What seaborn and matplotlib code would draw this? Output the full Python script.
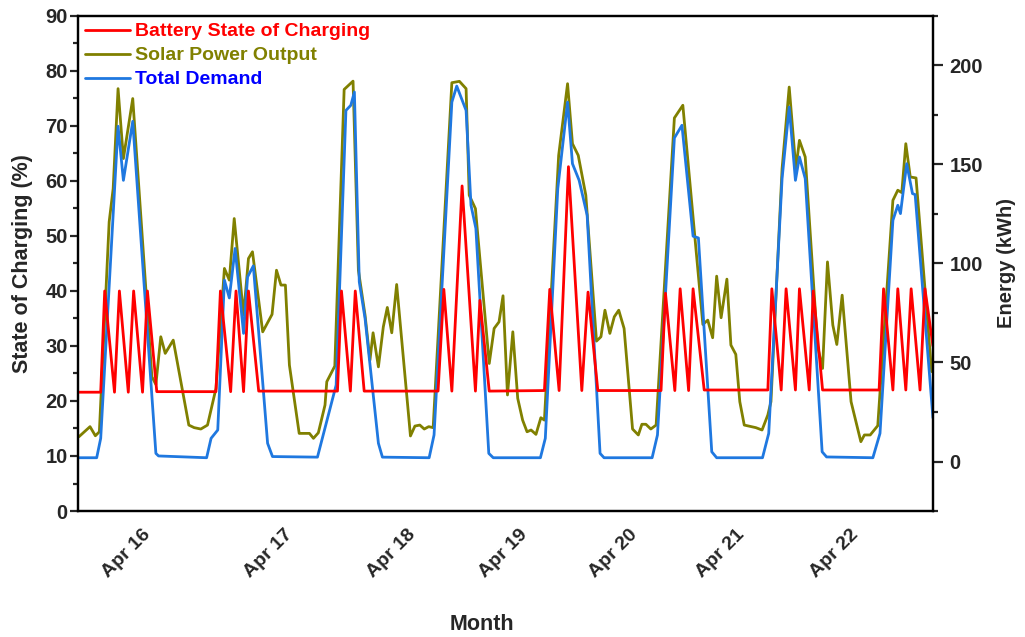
import matplotlib
matplotlib.use("Agg")
import matplotlib.pyplot as plt
import seaborn as sns
import pandas as pd
from matplotlib.ticker import MultipleLocator

# ---------------- data (x in hours from start) ----------------
soc_hours = [0.0, 4.9, 5.8, 8.0, 9.1, 11.1, 12.3, 14.3, 15.4, 17.5,
             30.8, 31.8, 34.1, 35.3, 37.0, 38.1, 40.4,
             58.1, 59.0, 61.0, 62.1, 64.1,
             80.7, 82.0, 83.8, 86.1, 89.1, 90.1, 92.2,
             104.6, 105.8, 107.9, 110.0, 113.0, 114.4, 116.6,
             130.8, 131.8, 133.9, 135.1, 137.0, 138.0, 140.5,
             154.8, 155.7, 157.8, 158.9, 161.0, 161.9, 164.1, 165.0, 167.1,
             179.8, 180.8, 182.9, 184.0, 185.8, 187.0, 189.0, 190.1, 191.9]
soc_values = [21.6, 21.6, 40.0, 21.6, 40.0, 21.6, 40.0, 21.6, 40.0, 21.7,
              21.7, 40.0, 21.7, 40.0, 21.7, 40.0, 21.8,
              21.8, 40.0, 21.8, 40.0, 21.8,
              21.8, 40.3, 21.8, 59.1, 21.8, 38.3, 21.8,
              21.9, 40.3, 21.9, 62.6, 21.9, 39.8, 21.9,
              21.9, 39.6, 21.9, 40.4, 21.9, 40.4, 22.0,
              22.0, 40.4, 22.0, 40.4, 22.0, 40.4, 22.0, 40.0, 22.0,
              22.0, 40.4, 22.0, 40.4, 22.0, 40.4, 22.0, 40.4, 30.0]

solar_hours = [0.0, 2.5, 3.7, 4.6, 6.8, 7.7, 8.8, 10.0, 12.1, 16.4, 17.3, 18.4, 19.4, 21.2,
               24.7, 25.9, 27.4, 28.9, 30.8, 32.7, 33.8, 34.9, 37.0, 38.1, 39.0, 41.3,
               43.4, 44.4, 45.4, 46.4, 47.3, 49.5, 51.8, 52.7, 53.8, 55.3, 55.7, 57.5,
               59.6, 61.6, 62.8, 64.3, 65.4, 66.1, 67.3, 68.4, 69.3, 70.3, 71.4,
               74.5, 75.5, 76.6, 77.6, 78.6, 79.6, 83.8, 85.5, 87.0, 87.7, 89.1,
               92.2, 93.3, 94.4, 95.3, 96.3, 97.5, 98.6, 99.7, 100.7, 101.6, 102.7, 103.8, 104.6,
               107.8, 109.8, 110.9, 112.2, 113.9, 116.3, 117.3, 118.2, 119.3, 120.3, 121.3, 122.5,
               124.4, 125.7, 126.5, 127.4, 128.5, 129.7, 133.8, 135.7,
               140.2, 141.3, 142.4, 143.3, 144.3, 145.6, 146.5, 147.6, 148.5, 149.5, 152.1, 153.5,
               154.8, 155.5, 158.0, 159.6, 161.1, 161.9, 163.2, 166.0, 167.1, 168.2, 169.4,
               170.3, 171.5, 173.5, 175.7, 176.5, 177.8, 179.5,
               182.9, 184.0, 184.9, 185.8, 186.8, 188.1, 191.6]
solar_values = [12.5, 17.6, 13.0, 15.0, 121.0, 137.8, 188.3, 153.0, 183.3, 42.8, 38.9, 63.0, 54.6, 61.3,
                18.4, 17.1, 16.4, 18.4, 36.9, 97.5, 91.6, 122.7, 73.9, 102.5, 105.9, 65.5,
                74.3, 96.6, 89.1, 89.1, 48.7, 14.2, 14.2, 11.7, 14.5, 28.5, 40.3, 48.2,
                187.9, 192.1, 96.6, 73.9, 51.2, 65.0, 47.8, 68.0, 77.8, 65.0, 89.4,
                12.9, 17.9, 18.4, 16.4, 17.6, 17.1, 191.3, 192.0, 188.3, 134.5, 127.7,
                49.5, 67.2, 70.5, 83.7, 33.6, 65.5, 31.9, 20.9, 15.0, 15.9, 13.7, 22.1, 20.9,
                154.6, 190.8, 160.5, 154.6, 134.5, 60.8, 63.0, 76.4, 64.7, 73.1, 76.4, 67.2,
                16.4, 13.4, 18.8, 18.8, 16.4, 18.4, 173.5, 179.9,
                69.2, 71.4, 62.5, 93.6, 72.6, 92.1, 58.8, 54.1, 30.2, 18.4, 17.1, 15.9,
                23.5, 30.2, 147.9, 189.1, 147.9, 162.2, 153.8, 57.9, 47.0, 100.8, 68.9,
                59.1, 84.0, 30.2, 10.0, 13.4, 13.4, 18.1,
                131.9, 137.0, 135.8, 160.5, 143.7, 143.2, 45.4]

demand_hours = [0.0, 4.0, 4.9, 8.8, 10.0, 12.1, 17.3, 17.9,
                28.7, 29.7, 31.2, 32.7, 33.8, 35.1, 37.0, 37.9, 39.2, 42.4, 43.5,
                53.6, 57.8, 60.0, 61.1, 61.9, 63.0, 64.3, 67.3, 68.2,
                78.7, 79.8, 83.8, 84.9, 87.0, 88.1, 89.2, 92.1, 93.1,
                103.7, 104.8, 107.6, 109.8, 110.9, 112.4, 114.2, 117.1, 118.0,
                128.8, 130.0, 133.8, 135.5, 138.0, 139.2, 142.2, 143.3,
                153.6, 155.0, 158.0, 159.6, 161.0, 161.9, 163.2, 167.0, 168.0,
                178.4, 180.0, 182.9, 184.0, 184.6, 186.0, 187.3, 187.9, 191.9]
demand_values = [1.9, 1.9, 11.7, 169.3, 142.0, 171.8, 4.1, 2.8,
                 1.9, 11.7, 15.9, 91.6, 82.6, 107.6, 64.7, 93.2, 98.8, 9.2, 2.5,
                 2.2, 38.6, 177.3, 179.9, 186.6, 90.7, 72.2, 9.2, 2.2,
                 1.9, 13.4, 181.5, 189.6, 177.3, 129.4, 117.7, 4.1, 1.9,
                 1.9, 11.7, 137.8, 181.5, 150.4, 142.0, 124.4, 4.1, 1.9,
                 1.9, 13.4, 163.4, 169.8, 113.8, 112.9, 4.9, 1.9,
                 1.9, 14.2, 142.9, 179.0, 142.0, 153.8, 142.9, 4.9, 2.3,
                 1.9, 14.2, 121.8, 129.4, 125.2, 150.4, 135.3, 134.8, 22.0]

tick_hours = [16.8, 48.7, 76.3, 101.5, 126.2, 150.4, 175.9]
tick_labels = ["Apr 16", "Apr 17", "Apr 18", "Apr 19", "Apr 20", "Apr 21", "Apr 22"]

series_names = ["Battery State of Charging", "Solar Power Output", "Total Demand"]
line_colors = ["#ff0000", "#808000", "#1f78e0"]
text_colors = ["#ff0000", "#808000", "#0000ff"]

# ---------------- plotting ----------------
sns.set_style("ticks")
plt.rcParams["font.family"] = ["Liberation Sans", "DejaVu Sans"]
plt.rcParams["font.weight"] = "bold"

fig = plt.figure(figsize=(10.25, 6.37), dpi=100)
ax = fig.add_axes([0.0761, 0.1978, 0.8341, 0.7771])
ax2 = ax.twinx()

soc_df = pd.DataFrame({"hour": soc_hours, "value": soc_values})
solar_df = pd.DataFrame({"hour": solar_hours, "value": solar_values})
demand_df = pd.DataFrame({"hour": demand_hours, "value": demand_values})

sns.lineplot(data=solar_df, x="hour", y="value", ax=ax2, color=line_colors[1],
             linewidth=2.0, sort=False, estimator=None, label=series_names[1], legend=False)
sns.lineplot(data=demand_df, x="hour", y="value", ax=ax2, color=line_colors[2],
             linewidth=2.0, sort=False, estimator=None, label=series_names[2], legend=False)
sns.lineplot(data=soc_df, x="hour", y="value", ax=ax, color=line_colors[0],
             linewidth=2.0, sort=False, estimator=None, label=series_names[0], legend=False)

ax.set_zorder(ax2.get_zorder() + 1)
ax.patch.set_visible(False)

ax.set_xlim(-0.2, 191.9)
ax.set_ylim(0, 90)
ax2.set_ylim(-25, 225)

ax.yaxis.set_major_locator(MultipleLocator(10))
ax.yaxis.set_minor_locator(MultipleLocator(5))
ax2.yaxis.set_major_locator(MultipleLocator(50))
ax2.yaxis.set_minor_locator(MultipleLocator(25))
ax2.set_yticks([0, 50, 100, 150, 200])

ax.set_xticks(tick_hours)
ax.set_xticklabels(tick_labels, rotation=45, ha="right", fontsize=14, fontweight="bold")
ax.tick_params(axis="x", length=0, pad=11)

for a in (ax, ax2):
    for s in a.spines.values():
        s.set_linewidth(1.6)
        s.set_color("black")
ax.tick_params(axis="y", which="major", direction="out", length=6, width=1.6, labelsize=14.5, pad=1.5)
ax.tick_params(axis="y", which="minor", direction="out", length=3.5, width=1.6)
ax2.tick_params(axis="y", which="major", direction="out", length=7, width=1.6, labelsize=14.5, pad=5)
ax2.tick_params(axis="y", which="minor", direction="out", length=3.5, width=1.6)
for lab in ax.get_yticklabels() + ax2.get_yticklabels():
    lab.set_fontweight("bold")

ax.set_xlabel("Month", fontsize=15.5, fontweight="bold")
ax.set_ylabel("State of Charging (%)", fontsize=15.5, fontweight="bold")
ax2.set_ylabel("Energy (kWh)", fontsize=14.5, fontweight="bold", labelpad=10)
ax.xaxis.set_label_coords(0.473, -0.208)
ax.yaxis.set_label_coords(-0.053, 0.5)

h1, l1 = ax.get_legend_handles_labels()
h2, l2 = ax2.get_legend_handles_labels()
leg = ax.legend(h1 + h2, l1 + l2, loc="upper left", frameon=False,
                prop={"weight": "bold", "size": 14},
                handlelength=2.3, handletextpad=0.3, labelspacing=0.33,
                borderaxespad=0.1, borderpad=0.25)
for txt, col in zip(leg.get_texts(), text_colors):
    txt.set_color(col)

fig.savefig("out.png", dpi=100)
